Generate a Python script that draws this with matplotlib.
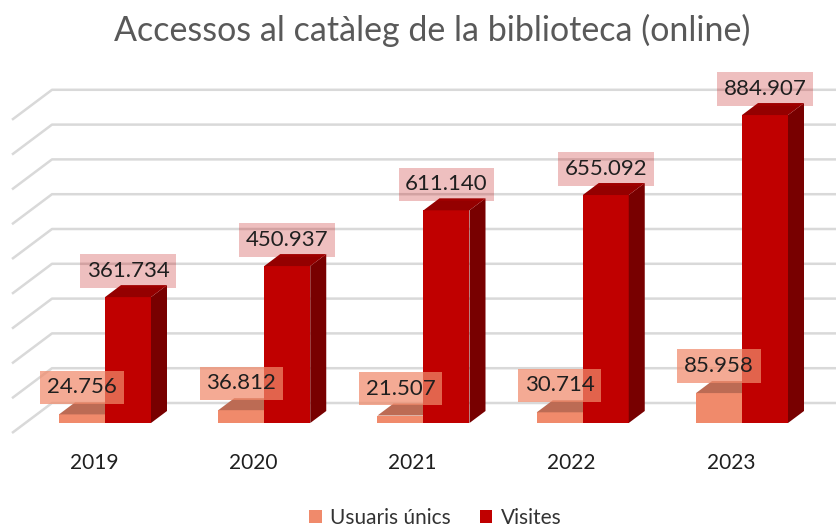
import matplotlib.pyplot as plt
from matplotlib.patches import Polygon, Patch

plt.rcParams['font.family'] = ['Lato', 'DejaVu Sans']

years = ['2019', '2020', '2021', '2022', '2023']
usuaris = [24756, 36812, 21507, 30714, 85958]
visites = [361734, 450937, 611140, 655092, 884907]
usuaris_labels = ['24.756', '36.812', '21.507', '30.714', '85.958']
visites_labels = ['361.734', '450.937', '611.140', '655.092', '884.907']
grid_values = [0, 100000, 200000, 300000, 400000, 500000, 600000, 700000, 800000, 900000]

c_us = '#F08A6B'
c_us_top = '#BC6B54'
c_vis = '#C00000'
c_vis_side = '#780000'
c_vis_top = '#940000'

# pixel scales of the fake 3d view
PX = 1 / 159.25          # category units per pixel
PY = 1 / 0.000348        # value units per pixel
W = 46 * PX              # bar width
DX, DY = 16 * PX, 12 * PY  # bar depth

fig = plt.figure(figsize=(8.37, 5.29), dpi=100)
ax = fig.add_axes([0, 0, 1, 1])
ax.set_xlim(-105 * PX, (837 - 105) * PX)
ax.set_ylim((423 - 529) * PY, 423 * PY)
ax.axis('off')

# gridlines: left wall diagonal + back wall line
x_wall = (25.3 - 105) * PX
for v in grid_values:
    xf, yf = x_wall - 13.3 * PX, v - 10 * PY
    xb, yb = x_wall + 26.7 * PX, v + 20 * PY
    ax.plot([xf, xb, 10], [yf, yb, yb], color='#d9d9d9', lw=1.8, zorder=1,
            solid_capstyle='butt')


def box3d(x0, v, front, side, top):
    x1 = x0 + W
    ax.add_patch(Polygon([(x0, 0), (x1, 0), (x1, v), (x0, v)], closed=True,
                         fc=front, ec='none', zorder=2))
    ax.add_patch(Polygon([(x1, 0), (x1 + DX, DY), (x1 + DX, v + DY), (x1, v)],
                         closed=True, fc=side, ec='none', zorder=2))
    ax.add_patch(Polygon([(x0, v), (x0 + DX, v + DY), (x1 + DX, v + DY), (x1, v)],
                         closed=True, fc=top, ec='none', zorder=2))


for i in range(len(years)):
    box3d(i - W, usuaris[i], c_us, c_us, c_us_top)
    box3d(i, visites[i], c_vis, c_vis_side, c_vis_top)

for i in range(len(years)):
    ax.text(i + W / 2, visites[i] + 26 * PY, visites_labels[i], ha='center', va='center',
            fontsize=16, color='#1f1f1f', zorder=5,
            bbox=dict(boxstyle='square,pad=0.3', fc=(0.75, 0.0, 0.0, 0.25), ec='none'))
    ax.text(i - W / 2, usuaris[i] + 27 * PY, usuaris_labels[i], ha='center', va='center',
            fontsize=16, color='#1f1f1f', zorder=5,
            bbox=dict(boxstyle='square,pad=0.3', fc=(0.94, 0.54, 0.42, 0.72), ec='none'))
    ax.text(i - 11 * PX, -40 * PY, years[i], ha='center', va='center',
            fontsize=15, color='#1f1f1f')

fig.text(0.516, 1 - 30 / 529, 'Accessos al catàleg de la biblioteca (online)',
         ha='center', va='center', fontsize=24.5, color='#595959')

handles = [Patch(fc=c_us, label='Usuaris únics'), Patch(fc=c_vis, label='Visites')]
fig.legend(handles=handles, loc='center', bbox_to_anchor=(0.52, 1 - 518 / 529), ncol=2,
           frameon=False, fontsize=15, handlelength=0.6, handleheight=0.6,
           handletextpad=0.4, columnspacing=1.4, labelcolor='#333333')

fig.savefig('out.png', dpi=100)
